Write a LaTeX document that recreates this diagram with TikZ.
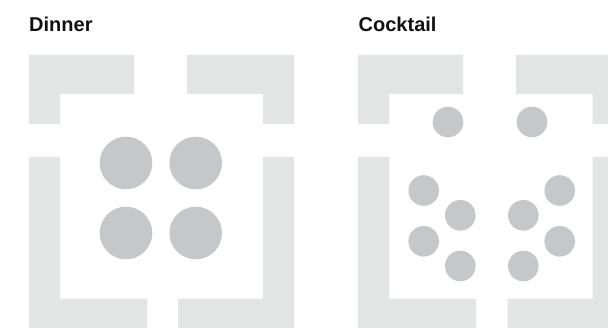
\documentclass[tikz,border=0pt]{standalone}
\usepackage{fontspec}
\usepackage{xcolor}
\usepackage{tikz}
\setmainfont{Liberation Sans}
\definecolor{wallgray}{HTML}{E3E4E4}
\definecolor{tablegray}{HTML}{C6C7C8}
\definecolor{titleblack}{HTML}{111111}

\begin{document}
\begin{tikzpicture}[
  x=1pt,y=-1pt,
  wall/.style={fill=wallgray},
  table/.style={fill=tablegray},
  title/.style={anchor=base west,inner sep=0pt,text=titleblack,
    font=\fontsize{20}{24}\selectfont\bfseries}
]
\useasboundingbox[fill=white] (0,0) rectangle (608,328);

% (a) dinner: four large round tables
\node[title] (dinner) at (29,31.7) {Dinner};
\fill[wall] (29,55) -- (134,55) -- (134,94) -- (60,94) -- (60,124) -- (29,124) -- cycle;
\fill[wall] (187,55) -- (294,55) -- (294,124) -- (263,124) -- (263,94) -- (187,94) -- cycle;
\fill[wall] (29,157) -- (60,157) -- (60,299) -- (147,299) -- (147,328) -- (29,328) -- cycle;
\fill[wall] (263,157) -- (294,157) -- (294,328) -- (178,328) -- (178,299) -- (263,299) -- cycle;
\fill[table] (126,163) circle[radius=26.3];
\fill[table] (195.7,163) circle[radius=26.3];
\fill[table] (126,233) circle[radius=26.3];
\fill[table] (195.7,233) circle[radius=26.3];

% (b) cocktail: small standing tables, room cut at the right edge
\node[title] (cocktail) at (358.5,31.7) {Cocktail};
\fill[wall] (358,55) -- (463,55) -- (463,94) -- (389,94) -- (389,124) -- (358,124) -- cycle;
\fill[wall] (516,55) -- (608,55) -- (608,124) -- (592.5,124) -- (592.5,94) -- (516,94) -- cycle;
\fill[wall] (358,157) -- (389,157) -- (389,299) -- (476,299) -- (476,328) -- (358,328) -- cycle;
\fill[wall] (592.5,157) -- (608,157) -- (608,328) -- (507.5,328) -- (507.5,299) -- (592.5,299) -- cycle;
\fill[table] (448,122) circle[radius=15.3];
\fill[table] (532,122) circle[radius=15.3];
\fill[table] (423.7,190.5) circle[radius=15.3];
\fill[table] (460.3,215.3) circle[radius=15.3];
\fill[table] (423.7,241.3) circle[radius=15.3];
\fill[table] (460.3,266) circle[radius=15.3];
\fill[table] (523.3,215.3) circle[radius=15.3];
\fill[table] (559.7,190.5) circle[radius=15.3];
\fill[table] (559.7,241.3) circle[radius=15.3];
\fill[table] (523.3,266) circle[radius=15.3];
\end{tikzpicture}
\end{document}
